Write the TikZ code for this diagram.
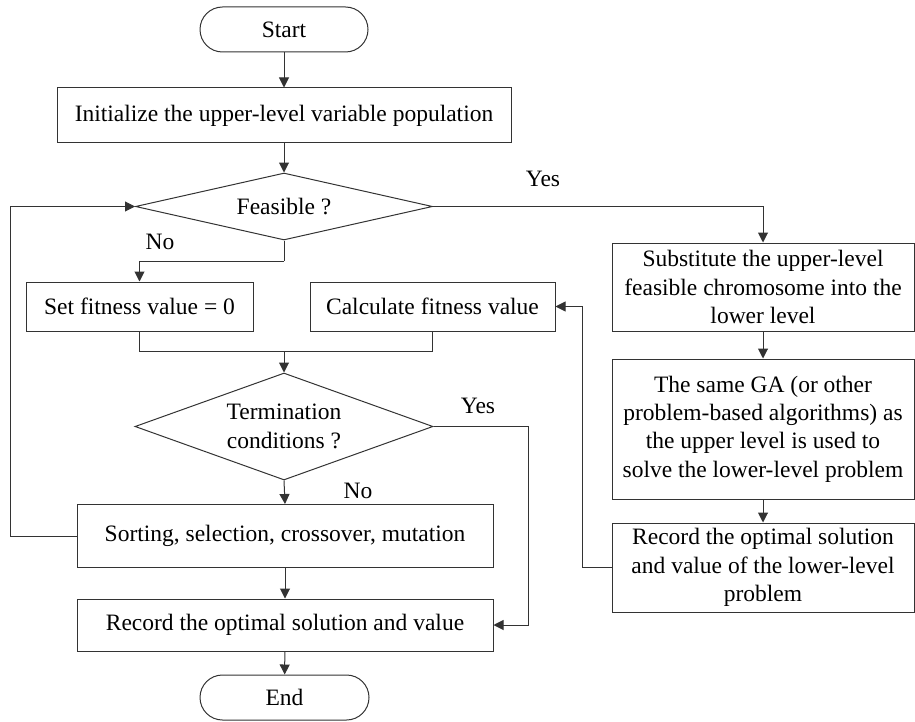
\documentclass[tikz,border=0pt]{standalone}
\usepackage{fontspec}
\setmainfont{Liberation Serif}
\usetikzlibrary{shapes.geometric}
\usetikzlibrary{shapes.misc}
\usetikzlibrary{arrows.meta}

\begin{document}
\begin{tikzpicture}[x=1pt,y=-1pt,
		every node/.style={font=\fontsize{23.5}{28.3}\selectfont},
		conn/.style={draw=black!80, line width=1pt},
		arr/.style={conn, -{Triangle[length=10pt,width=10pt]}},
		box/.style={conn, rectangle, inner sep=0pt, align=center},
		decision/.style={conn, diamond, aspect=2.8, inner sep=0pt, align=center},
		terminal/.style={conn, rounded rectangle, inner sep=0pt, minimum width=168pt, minimum height=45pt}]
			\useasboundingbox (0,0) rectangle (915,722);
			% left column
			\node[terminal] (start) at (284,29.5) {Start};
			\node[box, minimum width=454pt, minimum height=55pt] (init) at (284,115.5) {Initialize the upper-level variable population};
			\node[decision, minimum width=297pt, minimum height=67pt] (feas) at (284,206.5) {Feasible ?};
			\node[box, minimum width=227pt, minimum height=49pt] (setfit) at (139.5,306.5) {Set fitness value = 0};
			\node[box, minimum width=245pt, minimum height=49pt] (calc) at (432.5,306.5) {Calculate fitness value};
			\node[decision, minimum width=298pt, minimum height=107pt] (term) at (284,426.5) {Termination\\conditions ?};
			\node[box, minimum width=416pt, minimum height=63pt] (sort) at (285,536) {Sorting, selection, crossover, mutation};
			\node[box, minimum width=416pt, minimum height=52pt] (rec) at (285,625) {Record the optimal solution and value};
			\node[terminal, minimum width=169pt] (end) at (284.5,697.5) {End};
			% right column
			\node[box, minimum width=302pt, minimum height=88pt] (subst) at (763,287) {Substitute the upper-level\\feasible chromosome into the\\lower level};
			\node[box, minimum width=302pt, minimum height=140pt] (lowga) at (763,429) {The same GA (or other\\problem-based algorithms) as\\the upper level is used to\\solve the lower-level problem};
			\node[box, minimum width=302pt, minimum height=89pt] (lowrec) at (763,567.5) {Record the optimal solution\\and value of the lower-level\\problem};
			% labels
			\node (yes1) at (543,179) {Yes};
			\node (no1) at (160,242) {No};
			\node (yes2) at (478,406) {Yes};
			\node (no2) at (358,491) {No};
			\coordinate (split) at (284,261);
			\coordinate (merge) at (284,351);
			% connectors
			\draw[arr] (start) -- (init);
			\draw[arr] (init) -- (feas);
			\draw[arr] (feas.east) -| (subst.north);
			\draw[conn] (feas.south) -- (split);
			\draw[arr] (split) -| (setfit.north);
			\draw[conn] (setfit.south) |- (merge);
			\draw[conn] (calc.south) |- (merge);
			\draw[arr] (merge) -- (term.north);
			\draw[arr] (term.south) -- (sort.north);
			\draw[arr] (term.east) -- ++(95,0) |- (rec.east);
			\draw[arr] (sort.west) -- ++(-66,0) |- (feas.west);
			\draw[arr] (sort) -- (rec);
			\draw[arr] (rec) -- (end);
			\draw[arr] (subst) -- (lowga);
			\draw[arr] (lowga) -- (lowrec);
			\draw[arr] (lowrec.west) -- ++(-29,0) |- (calc.east);
		\end{tikzpicture}
\end{document}
